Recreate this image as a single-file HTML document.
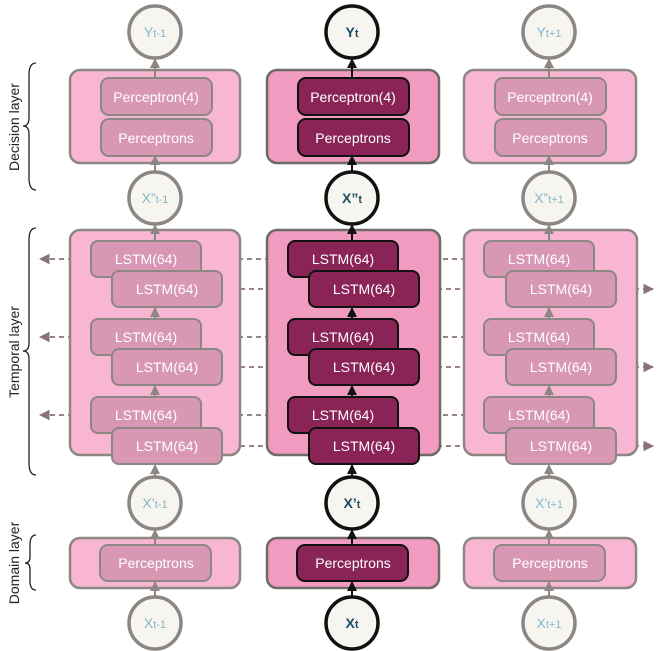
<!DOCTYPE html>
<html><head><style>
html,body{margin:0;padding:0;background:#fff;}
svg{display:block;font-family:"Liberation Sans",sans-serif;}
.ob{fill:#f8b6d2;stroke:#8c8783;stroke-width:2.5}
.obm{fill:#f29bc0;stroke:#6e6a66;stroke-width:2.5}
.ib{fill:#d898b3;stroke:#8c8783;stroke-width:2}
.ibm{fill:#8a2457;stroke:#111;stroke-width:2}
.t{fill:#fff;font-size:14px;text-anchor:middle}
.c{fill:#f6f5ef;stroke:#8c8783;stroke-width:3.5}
.cm{fill:#f6f5ef;stroke:#111;stroke-width:3.5}
.ct{fill:#86b6c9;font-size:14px;text-anchor:middle}
.ctm{fill:#1f4e62;font-size:14px;font-weight:bold;text-anchor:middle}
.v{stroke:#8c8783;stroke-width:2}
.vm{stroke:#111;stroke-width:2}
.d{stroke:#8a7377;stroke-width:1.8;stroke-dasharray:5,4;fill:none}
.lab{font-size:14px;fill:#222;text-anchor:middle}
.br{fill:none;stroke:#222;stroke-width:1.3}
</style></head><body>
<svg width="658" height="651" viewBox="0 0 658 651">
<defs>
<marker id="ag" viewBox="0 0 10 10" refX="9" refY="5" markerWidth="5" markerHeight="5" orient="auto"><path d="M0,0L10,5L0,10z" fill="#8c8783"/></marker>
<marker id="ak" viewBox="0 0 10 10" refX="9" refY="5" markerWidth="5" markerHeight="5" orient="auto"><path d="M0,0L10,5L0,10z" fill="#111"/></marker>
<marker id="ad" viewBox="0 0 10 10" refX="9" refY="5" markerWidth="6" markerHeight="6" orient="auto"><path d="M0,0L10,5L0,10z" fill="#8a7377"/></marker>
</defs>

<!-- braces & labels -->
<path class="br" d="M36,63 Q29,63 29,75 L29,118 Q29,126 23,126 Q29,126 29,134 L29,178 Q29,190 36,190"/>
<text class="lab" transform="translate(19,127) rotate(-90)">Decision layer</text>
<path class="br" d="M36,228 Q29,228 29,240 L29,343 Q29,351 23,351 Q29,351 29,359 L29,463 Q29,475 36,475"/>
<text class="lab" transform="translate(19,352) rotate(-90)">Temporal layer</text>
<path class="br" d="M36,535 Q30,535 30,545 L30,557 Q30,563 25,563 Q30,563 30,569 L30,581 Q30,590 36,590"/>
<text class="lab" transform="translate(19,563) rotate(-90)">Domain layer</text>

<!-- dashed horizontal arrows: left-pointing (A rows) -->
<g class="d" marker-end="url(#ad)">
<line x1="91" y1="259" x2="40" y2="259"/><line x1="288" y1="259" x2="203" y2="259"/><line x1="484" y1="259" x2="400" y2="259"/>
<line x1="91" y1="337" x2="40" y2="337"/><line x1="288" y1="337" x2="203" y2="337"/><line x1="484" y1="337" x2="400" y2="337"/>
<line x1="91" y1="415" x2="40" y2="415"/><line x1="288" y1="415" x2="203" y2="415"/><line x1="484" y1="415" x2="400" y2="415"/>
<line x1="222" y1="289" x2="307" y2="289"/><line x1="419" y1="289" x2="504" y2="289"/><line x1="616" y1="289" x2="653" y2="289"/>
<line x1="222" y1="367" x2="307" y2="367"/><line x1="419" y1="367" x2="504" y2="367"/><line x1="616" y1="367" x2="653" y2="367"/>
<line x1="222" y1="446" x2="307" y2="446"/><line x1="419" y1="446" x2="504" y2="446"/><line x1="616" y1="446" x2="653" y2="446"/>
</g>

<!-- LEFT COLUMN -->
<g>
<rect class="ob" x="70" y="70" width="170" height="93" rx="10"/>
<rect class="ib" x="101" y="78" width="111" height="37" rx="8"/><text class="t" x="156" y="102">Perceptron(4)</text>
<rect class="ib" x="101" y="119" width="111" height="37" rx="8"/><text class="t" x="156" y="143">Perceptrons</text>
<rect class="ob" x="70" y="230" width="170" height="225" rx="10"/>
<rect class="ib" x="91" y="241" width="110" height="36" rx="7"/><text class="t" x="146" y="264">LSTM(64)</text>
<rect class="ib" x="112" y="271" width="110" height="36" rx="7"/><text class="t" x="167" y="294">LSTM(64)</text>
<rect class="ib" x="91" y="319" width="110" height="36" rx="7"/><text class="t" x="146" y="342">LSTM(64)</text>
<rect class="ib" x="112" y="349" width="110" height="36" rx="7"/><text class="t" x="167" y="372">LSTM(64)</text>
<rect class="ib" x="91" y="397" width="110" height="36" rx="7"/><text class="t" x="146" y="420">LSTM(64)</text>
<rect class="ib" x="112" y="428" width="110" height="36" rx="7"/><text class="t" x="167" y="451">LSTM(64)</text>
<rect class="ob" x="70" y="538" width="170" height="50" rx="10"/>
<rect class="ib" x="100" y="545" width="111" height="36" rx="8"/><text class="t" x="156" y="568">Perceptrons</text>
<g class="v" marker-end="url(#ag)">
<line x1="155" y1="78" x2="155" y2="59"/><line x1="155" y1="172" x2="155" y2="156"/><line x1="155" y1="241" x2="155" y2="225"/>
<line x1="155" y1="319" x2="155" y2="308"/><line x1="155" y1="397" x2="155" y2="386"/><line x1="155" y1="477" x2="155" y2="465"/>
<line x1="155" y1="545" x2="155" y2="530"/><line x1="155" y1="597" x2="155" y2="582"/>
</g>
<circle class="c" cx="155" cy="32" r="26"/><text class="ct" x="155" y="37">Y<tspan font-size="11">t-1</tspan></text>
<circle class="c" cx="155" cy="198" r="26"/><text class="ct" x="155" y="203">X”<tspan font-size="11">t-1</tspan></text>
<circle class="c" cx="155" cy="503" r="26"/><text class="ct" x="155" y="508">X’<tspan font-size="11">t-1</tspan></text>
<circle class="c" cx="155" cy="623" r="26"/><text class="ct" x="155" y="628">X<tspan font-size="11">t-1</tspan></text>
</g>

<!-- MIDDLE COLUMN -->
<g>
<rect class="obm" x="267" y="70" width="172" height="93" rx="10"/>
<rect class="ibm" x="298" y="78" width="111" height="37" rx="8"/><text class="t" x="353" y="102">Perceptron(4)</text>
<rect class="ibm" x="298" y="119" width="111" height="37" rx="8"/><text class="t" x="353" y="143">Perceptrons</text>
<rect class="obm" x="267" y="230" width="173" height="225" rx="10"/>
<rect class="ibm" x="288" y="241" width="110" height="36" rx="7"/><text class="t" x="343" y="264">LSTM(64)</text>
<rect class="ibm" x="309" y="271" width="110" height="36" rx="7"/><text class="t" x="364" y="294">LSTM(64)</text>
<rect class="ibm" x="288" y="319" width="110" height="36" rx="7"/><text class="t" x="343" y="342">LSTM(64)</text>
<rect class="ibm" x="309" y="349" width="110" height="36" rx="7"/><text class="t" x="364" y="372">LSTM(64)</text>
<rect class="ibm" x="288" y="397" width="110" height="36" rx="7"/><text class="t" x="343" y="420">LSTM(64)</text>
<rect class="ibm" x="309" y="428" width="110" height="36" rx="7"/><text class="t" x="364" y="451">LSTM(64)</text>
<rect class="obm" x="267" y="538" width="172" height="50" rx="10"/>
<rect class="ibm" x="297" y="545" width="111" height="36" rx="8"/><text class="t" x="353" y="568">Perceptrons</text>
<g class="vm" marker-end="url(#ak)">
<line x1="352" y1="78" x2="352" y2="59"/><line x1="352" y1="172" x2="352" y2="156"/><line x1="352" y1="241" x2="352" y2="225"/>
<line x1="352" y1="319" x2="352" y2="308"/><line x1="352" y1="397" x2="352" y2="386"/><line x1="352" y1="477" x2="352" y2="465"/>
<line x1="352" y1="545" x2="352" y2="530"/><line x1="352" y1="597" x2="352" y2="582"/>
</g>
<circle class="cm" cx="352" cy="32" r="26"/><text class="ctm" x="352" y="37">Y<tspan font-size="11">t</tspan></text>
<circle class="cm" cx="352" cy="198" r="26"/><text class="ctm" x="352" y="203">X”<tspan font-size="11">t</tspan></text>
<circle class="cm" cx="352" cy="503" r="26"/><text class="ctm" x="352" y="508">X’<tspan font-size="11">t</tspan></text>
<circle class="cm" cx="352" cy="623" r="26"/><text class="ctm" x="352" y="628">X<tspan font-size="11">t</tspan></text>
</g>

<!-- RIGHT COLUMN -->
<g>
<rect class="ob" x="464" y="70" width="172" height="93" rx="10"/>
<rect class="ib" x="495" y="78" width="111" height="37" rx="8"/><text class="t" x="550" y="102">Perceptron(4)</text>
<rect class="ib" x="495" y="119" width="111" height="37" rx="8"/><text class="t" x="550" y="143">Perceptrons</text>
<rect class="ob" x="464" y="230" width="173" height="225" rx="10"/>
<rect class="ib" x="484" y="241" width="110" height="36" rx="7"/><text class="t" x="539" y="264">LSTM(64)</text>
<rect class="ib" x="506" y="271" width="110" height="36" rx="7"/><text class="t" x="561" y="294">LSTM(64)</text>
<rect class="ib" x="484" y="319" width="110" height="36" rx="7"/><text class="t" x="539" y="342">LSTM(64)</text>
<rect class="ib" x="506" y="349" width="110" height="36" rx="7"/><text class="t" x="561" y="372">LSTM(64)</text>
<rect class="ib" x="484" y="397" width="110" height="36" rx="7"/><text class="t" x="539" y="420">LSTM(64)</text>
<rect class="ib" x="506" y="428" width="110" height="36" rx="7"/><text class="t" x="561" y="451">LSTM(64)</text>
<rect class="ob" x="464" y="538" width="172" height="50" rx="10"/>
<rect class="ib" x="494" y="545" width="111" height="36" rx="8"/><text class="t" x="550" y="568">Perceptrons</text>
<g class="v" marker-end="url(#ag)">
<line x1="549" y1="78" x2="549" y2="59"/><line x1="549" y1="172" x2="549" y2="156"/><line x1="549" y1="241" x2="549" y2="225"/>
<line x1="549" y1="319" x2="549" y2="308"/><line x1="549" y1="397" x2="549" y2="386"/><line x1="549" y1="477" x2="549" y2="465"/>
<line x1="549" y1="545" x2="549" y2="530"/><line x1="549" y1="597" x2="549" y2="582"/>
</g>
<circle class="c" cx="549" cy="32" r="26"/><text class="ct" x="549" y="37">Y<tspan font-size="11">t+1</tspan></text>
<circle class="c" cx="549" cy="198" r="26"/><text class="ct" x="549" y="203">X”<tspan font-size="11">t+1</tspan></text>
<circle class="c" cx="549" cy="503" r="26"/><text class="ct" x="549" y="508">X’<tspan font-size="11">t+1</tspan></text>
<circle class="c" cx="549" cy="623" r="26"/><text class="ct" x="549" y="628">X<tspan font-size="11">t+1</tspan></text>
</g>
</svg>
</body></html>
